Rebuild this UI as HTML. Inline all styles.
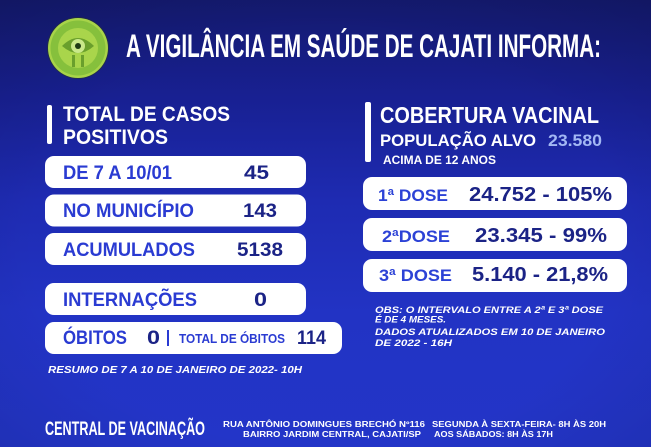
<!DOCTYPE html>
<html><head><meta charset="utf-8"><style>
html,body{margin:0;padding:0;width:651px;height:447px;overflow:hidden;background:#1d28a8;}
svg{display:block}
text{font-family:"Liberation Sans",sans-serif;font-weight:bold;}
</style></head><body>
<svg width="651" height="447" viewBox="0 0 651 447" xmlns="http://www.w3.org/2000/svg">
<defs>
<linearGradient id="bg" x1="0" y1="0" x2="0" y2="1">
<stop offset="0" stop-color="#141a70"/>
<stop offset="0.22" stop-color="#182092"/>
<stop offset="0.45" stop-color="#1e2bb2"/>
<stop offset="0.7" stop-color="#2233c4"/>
<stop offset="1" stop-color="#2335c8"/>
</linearGradient>
<radialGradient id="vig" cx="0.5" cy="0.55" r="0.75">
<stop offset="0.6" stop-color="#000" stop-opacity="0"/>
<stop offset="1" stop-color="#000" stop-opacity="0.12"/>
</radialGradient>
</defs>
<rect width="651" height="447" fill="url(#bg)"/>
<rect width="651" height="447" fill="url(#vig)"/>

<!-- logo -->
<circle cx="78" cy="48" r="31" fill="#2a3a20" opacity="0.5"/>
<circle cx="78" cy="48" r="30" fill="#a8d449"/>
<circle cx="78" cy="48" r="27.5" fill="#86c03c"/>
<circle cx="78" cy="48" r="20" fill="#a9d54b"/>
<path d="M62 46 Q78 30 94 46 Q78 60 62 46 Z" fill="#6a9f2c"/>
<circle cx="78" cy="46" r="7" fill="#c9e88a"/>
<circle cx="78" cy="46" r="3" fill="#1e3a14"/>
<rect x="72" y="55" width="3" height="12" fill="#6a9f2c"/>
<rect x="81" y="55" width="3" height="12" fill="#6a9f2c"/>

<text x="126" y="57" font-size="32" fill="#ffffff" textLength="475" lengthAdjust="spacingAndGlyphs">A VIGILÂNCIA EM SAÚDE DE CAJATI INFORMA:</text>

<!-- left header -->
<rect x="47" y="105" width="5" height="39" rx="2" fill="#ffffff"/>
<text x="63" y="121" font-size="21" fill="#ffffff" textLength="167" lengthAdjust="spacingAndGlyphs">TOTAL DE CASOS</text>
<text x="63" y="144" font-size="21" fill="#ffffff" textLength="105" lengthAdjust="spacingAndGlyphs">POSITIVOS</text>

<!-- left boxes -->
<rect x="45" y="156" width="261" height="32" rx="9" fill="#ffffff"/>
<rect x="45" y="194.5" width="261" height="32" rx="9" fill="#ffffff"/>
<rect x="45" y="233" width="261" height="32" rx="9" fill="#ffffff"/>
<rect x="45" y="283" width="261" height="32" rx="9" fill="#ffffff"/>
<rect x="45" y="322" width="297" height="32" rx="9" fill="#ffffff"/>

<g font-size="19">
<text x="63" y="179" fill="#2a3bd2" textLength="109" lengthAdjust="spacingAndGlyphs">DE 7 A 10/01</text>
<text x="244" y="179" fill="#1b2386" textLength="25" lengthAdjust="spacingAndGlyphs">45</text>
<text x="63" y="217" fill="#2a3bd2" textLength="131" lengthAdjust="spacingAndGlyphs">NO MUNICÍPIO</text>
<text x="243" y="217" fill="#1b2386" textLength="34" lengthAdjust="spacingAndGlyphs">143</text>
<text x="63" y="256" fill="#2a3bd2" textLength="132" lengthAdjust="spacingAndGlyphs">ACUMULADOS</text>
<text x="237" y="256" fill="#1b2386" textLength="46" lengthAdjust="spacingAndGlyphs">5138</text>
<text x="63" y="306" fill="#2a3bd2" textLength="134" lengthAdjust="spacingAndGlyphs">INTERNAÇÕES</text>
<text x="254" y="306" fill="#1b2386" textLength="13" lengthAdjust="spacingAndGlyphs">0</text>
<text x="63" y="344" fill="#2a3bd2" textLength="64" lengthAdjust="spacingAndGlyphs">ÓBITOS</text>
<text x="147" y="344" fill="#1b2386" textLength="13" lengthAdjust="spacingAndGlyphs">0</text>
</g>
<rect x="167" y="330" width="2" height="16" fill="#2a3bd2"/>
<text x="179" y="343" font-size="13" fill="#2a3bd2" textLength="106" lengthAdjust="spacingAndGlyphs">TOTAL DE ÓBITOS</text>
<text x="297" y="344" font-size="19" fill="#1b2386" textLength="29" lengthAdjust="spacingAndGlyphs">114</text>

<text x="48" y="373" font-size="10" font-style="italic" fill="#ffffff" textLength="254" lengthAdjust="spacingAndGlyphs">RESUMO DE 7 A 10 DE JANEIRO DE 2022- 10H</text>

<!-- right header -->
<rect x="365" y="102" width="6" height="60" rx="2" fill="#ffffff"/>
<text x="380" y="123" font-size="23" fill="#ffffff" textLength="219" lengthAdjust="spacingAndGlyphs">COBERTURA VACINAL</text>
<text x="380" y="146" font-size="17" fill="#ffffff" textLength="156" lengthAdjust="spacingAndGlyphs">POPULAÇÃO ALVO</text>
<text x="548" y="146" font-size="17" fill="#a3b8f4" textLength="54" lengthAdjust="spacingAndGlyphs">23.580</text>
<text x="383" y="164" font-size="12" fill="#ffffff" textLength="113" lengthAdjust="spacingAndGlyphs">ACIMA DE 12 ANOS</text>

<!-- dose boxes -->
<rect x="363" y="177" width="264" height="33" rx="9" fill="#ffffff"/>
<rect x="363" y="218" width="264" height="33" rx="9" fill="#ffffff"/>
<rect x="363" y="259" width="264" height="33" rx="9" fill="#ffffff"/>
<text x="378" y="201" font-size="17" fill="#2c42d6" textLength="70" lengthAdjust="spacingAndGlyphs">1ª DOSE</text>
<text x="469" y="201" font-size="20" fill="#1b2386" textLength="143" lengthAdjust="spacingAndGlyphs">24.752 - 105%</text>
<text x="382" y="242" font-size="17" fill="#2c42d6" textLength="68" lengthAdjust="spacingAndGlyphs">2ªDOSE</text>
<text x="475" y="242" font-size="20" fill="#1b2386" textLength="132" lengthAdjust="spacingAndGlyphs">23.345 - 99%</text>
<text x="379" y="281" font-size="17" fill="#2c42d6" textLength="73" lengthAdjust="spacingAndGlyphs">3ª DOSE</text>
<text x="472" y="281" font-size="20" fill="#1b2386" textLength="136" lengthAdjust="spacingAndGlyphs">5.140 - 21,8%</text>

<g font-size="9.5" font-style="italic" fill="#ffffff">
<text x="375" y="313" textLength="228" lengthAdjust="spacingAndGlyphs">OBS: O INTERVALO ENTRE A 2ª E 3ª DOSE</text>
<text x="375" y="322.5" textLength="71" lengthAdjust="spacingAndGlyphs">É DE 4 MESES.</text>
<text x="375" y="335" textLength="230" lengthAdjust="spacingAndGlyphs">DADOS ATUALIZADOS EM 10 DE JANEIRO</text>
<text x="375" y="346" textLength="77" lengthAdjust="spacingAndGlyphs">DE 2022 - 16H</text>
</g>

<!-- footer -->
<text x="45" y="435" font-size="19" fill="#ffffff" textLength="160" lengthAdjust="spacingAndGlyphs">CENTRAL DE VACINAÇÃO</text>
<g font-size="8" fill="#ffffff">
<text x="223" y="427" textLength="202" lengthAdjust="spacingAndGlyphs">RUA ANTÔNIO DOMINGUES BRECHÓ Nº116</text>
<text x="243" y="437" textLength="178" lengthAdjust="spacingAndGlyphs">BAIRRO JARDIM CENTRAL, CAJATI/SP</text>
<text x="432" y="427" textLength="174" lengthAdjust="spacingAndGlyphs">SEGUNDA À SEXTA-FEIRA- 8H ÀS 20H</text>
<text x="434" y="437" textLength="119" lengthAdjust="spacingAndGlyphs">AOS SÁBADOS: 8H ÀS 17H</text>
</g>
</svg>
</body></html>
